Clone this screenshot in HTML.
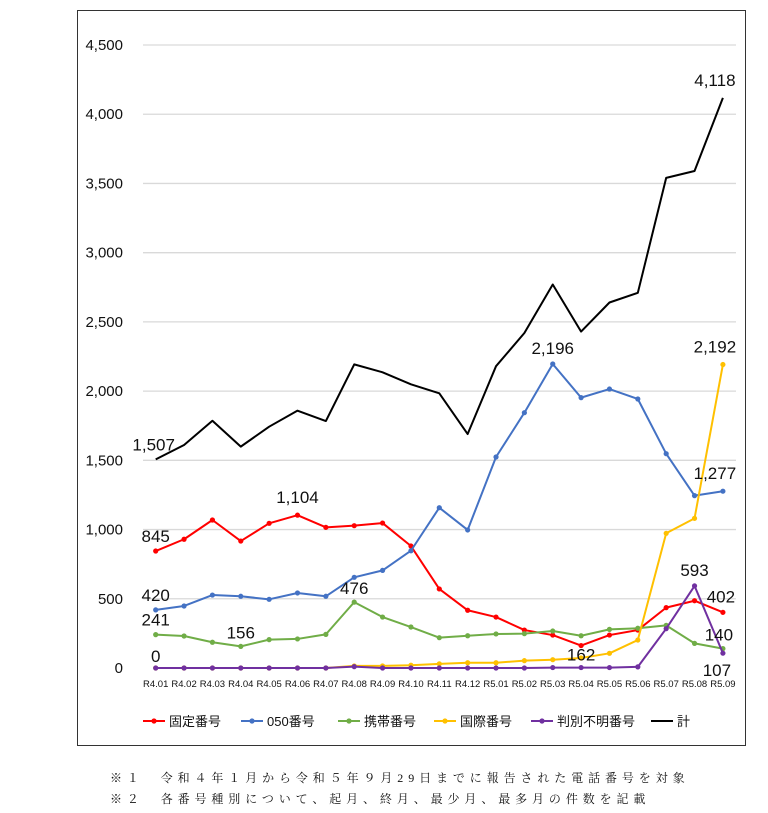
<!DOCTYPE html>
<html><head><meta charset="utf-8">
<style>
body{margin:0;background:#fff;width:768px;height:813px;overflow:hidden;font-family:"Liberation Sans","Noto Sans CJK JP",sans-serif}
#frame{position:absolute;left:77px;top:10px;width:669px;height:736px;border:1px solid #333;box-sizing:border-box}
.note{position:absolute;left:110px;font-size:12px;letter-spacing:4.9px;color:#111;font-family:"Liberation Serif","Noto Serif CJK SC",serif}
</style></head><body>
<div id="frame"></div>
<svg id="chart" width="768" height="813" style="position:absolute;left:0;top:0"></svg>
<div class="note" style="top:769px">※１　令和４年１月から令和５年９月29日までに報告された電話番号を対象</div>
<div class="note" style="top:790px">※２　各番号種別について、起月、終月、最少月、最多月の件数を記載</div>
<script>
const categories=["R4.01","R4.02","R4.03","R4.04","R4.05","R4.06","R4.07","R4.08","R4.09","R4.10","R4.11","R4.12","R5.01","R5.02","R5.03","R5.04","R5.05","R5.06","R5.07","R5.08","R5.09"];
const yTicks=[0,500,1000,1500,2000,2500,3000,3500,4000,4500];
const fixedVals=[845,930,1069,917,1045,1104,1016,1028,1047,881,571,417,368,274,238,162,238,274,436,486,402];
const ipVals=[420,448,527,518,496,542,518,655,705,847,1158,997,1524,1844,2196,1953,2015,1943,1548,1245,1277];
const mobileVals=[241,231,186,156,205,210,243,476,368,296,219,233,246,248,267,233,279,287,308,178,140];
const intlVals=[0,0,0,0,0,0,0,15,15,20,30,38,38,53,60,72,106,202,973,1081,2192];
const unknownVals=[0,0,0,0,0,0,0,10,0,0,0,0,0,0,3,3,3,8,284,593,107];
const totalVals=[1507,1611,1786,1599,1743,1859,1784,2193,2136,2049,1984,1690,2180,2420,2770,2430,2640,2710,3540,3590,4118];
const seriesNames=["固定番号","050番号","携帯番号","国際番号","判別不明番号","計"];

const NS="http://www.w3.org/2000/svg";
const svg=document.getElementById('chart');
const x0=155.7,dxs=28.36,y0=668,ppu=(668-45)/4500;
const X=i=>x0+i*dxs, Y=v=>y0-v*ppu;
function el(t,a,p){const e=document.createElementNS(NS,t);for(const k in a)e.setAttribute(k,a[k]);(p||svg).appendChild(e);return e;}
yTicks.forEach(t=>{
  if(t>0){const g=el('line',{x1:143,x2:736,y1:Y(t),y2:Y(t),stroke:'#d9d9d9','stroke-width':1.3});
  
  }
  const tx=el('text',{x:123,y:Y(t)+5,'text-anchor':'end','font-size':15,fill:'#111'});
  tx.textContent=t.toLocaleString('en-US');
  
  
});
categories.forEach((c,i)=>{
  const t=el('text',{x:X(i),y:687,'text-anchor':'middle','font-size':9.5,fill:'#111'});
  t.textContent=c;
  
  
});
const series=[
 {vals:fixedVals,color:'#ff0000',marker:true,key:'fixed'},
 {vals:ipVals,color:'#4472c4',marker:true,key:'ip050'},
 {vals:mobileVals,color:'#70ad47',marker:true,key:'mobile'},
 {vals:intlVals,color:'#ffc000',marker:true,key:'intl'},
 {vals:unknownVals,color:'#7030a0',marker:true,key:'unknown'},
 {vals:totalVals,color:'#000',marker:false,key:'total'}];
series.forEach(s=>{
  const p=el('polyline',{points:s.vals.map((v,i)=>X(i)+','+Y(v)).join(' '),fill:'none',stroke:s.color,'stroke-width':2,'stroke-linejoin':'round'});
  
  
  if(s.marker) s.vals.forEach((v,i)=>{
    const m=el('circle',{cx:X(i),cy:Y(v),r:2.6,fill:s.color});
    
    
  });
});
const labels=[[totalVals,0,-2,-9],[totalVals,20,-8,-12],[fixedVals,0,0,-9],[fixedVals,5,0,-12],[ipVals,0,0,-9],[ipVals,14,0,-10],[ipVals,20,-8,-12],
[mobileVals,0,0,-9],[mobileVals,3,0,-8],[mobileVals,7,0,-8],[intlVals,20,-8,-12],[unknownVals,0,0,-6],[fixedVals,15,0,15],[fixedVals,20,-2,-10],
[mobileVals,20,-4,-8],[unknownVals,19,0,-10],[unknownVals,20,-6,23]];
labels.forEach(l=>{
  const t=el('text',{x:X(l[1])+l[2],y:Y(l[0][l[1]])+l[3],'text-anchor':'middle','font-size':17,fill:'#111'});
  t.textContent=l[0][l[1]].toLocaleString('en-US');
  
  
});
const lx=[143,241,338,434,531,651];
series.forEach((s,i)=>{
  const g=el('g',{});
  
  
  el('line',{x1:lx[i],x2:lx[i]+22,y1:721,y2:721,stroke:s.color,'stroke-width':2},g);
  if(s.marker) el('circle',{cx:lx[i]+11,cy:721,r:2.6,fill:s.color},g);
  const t=el('text',{x:lx[i]+26,y:726,'font-size':13,fill:'#111'},g);
  t.textContent=seriesNames[i];
});
</script>
</body></html>
